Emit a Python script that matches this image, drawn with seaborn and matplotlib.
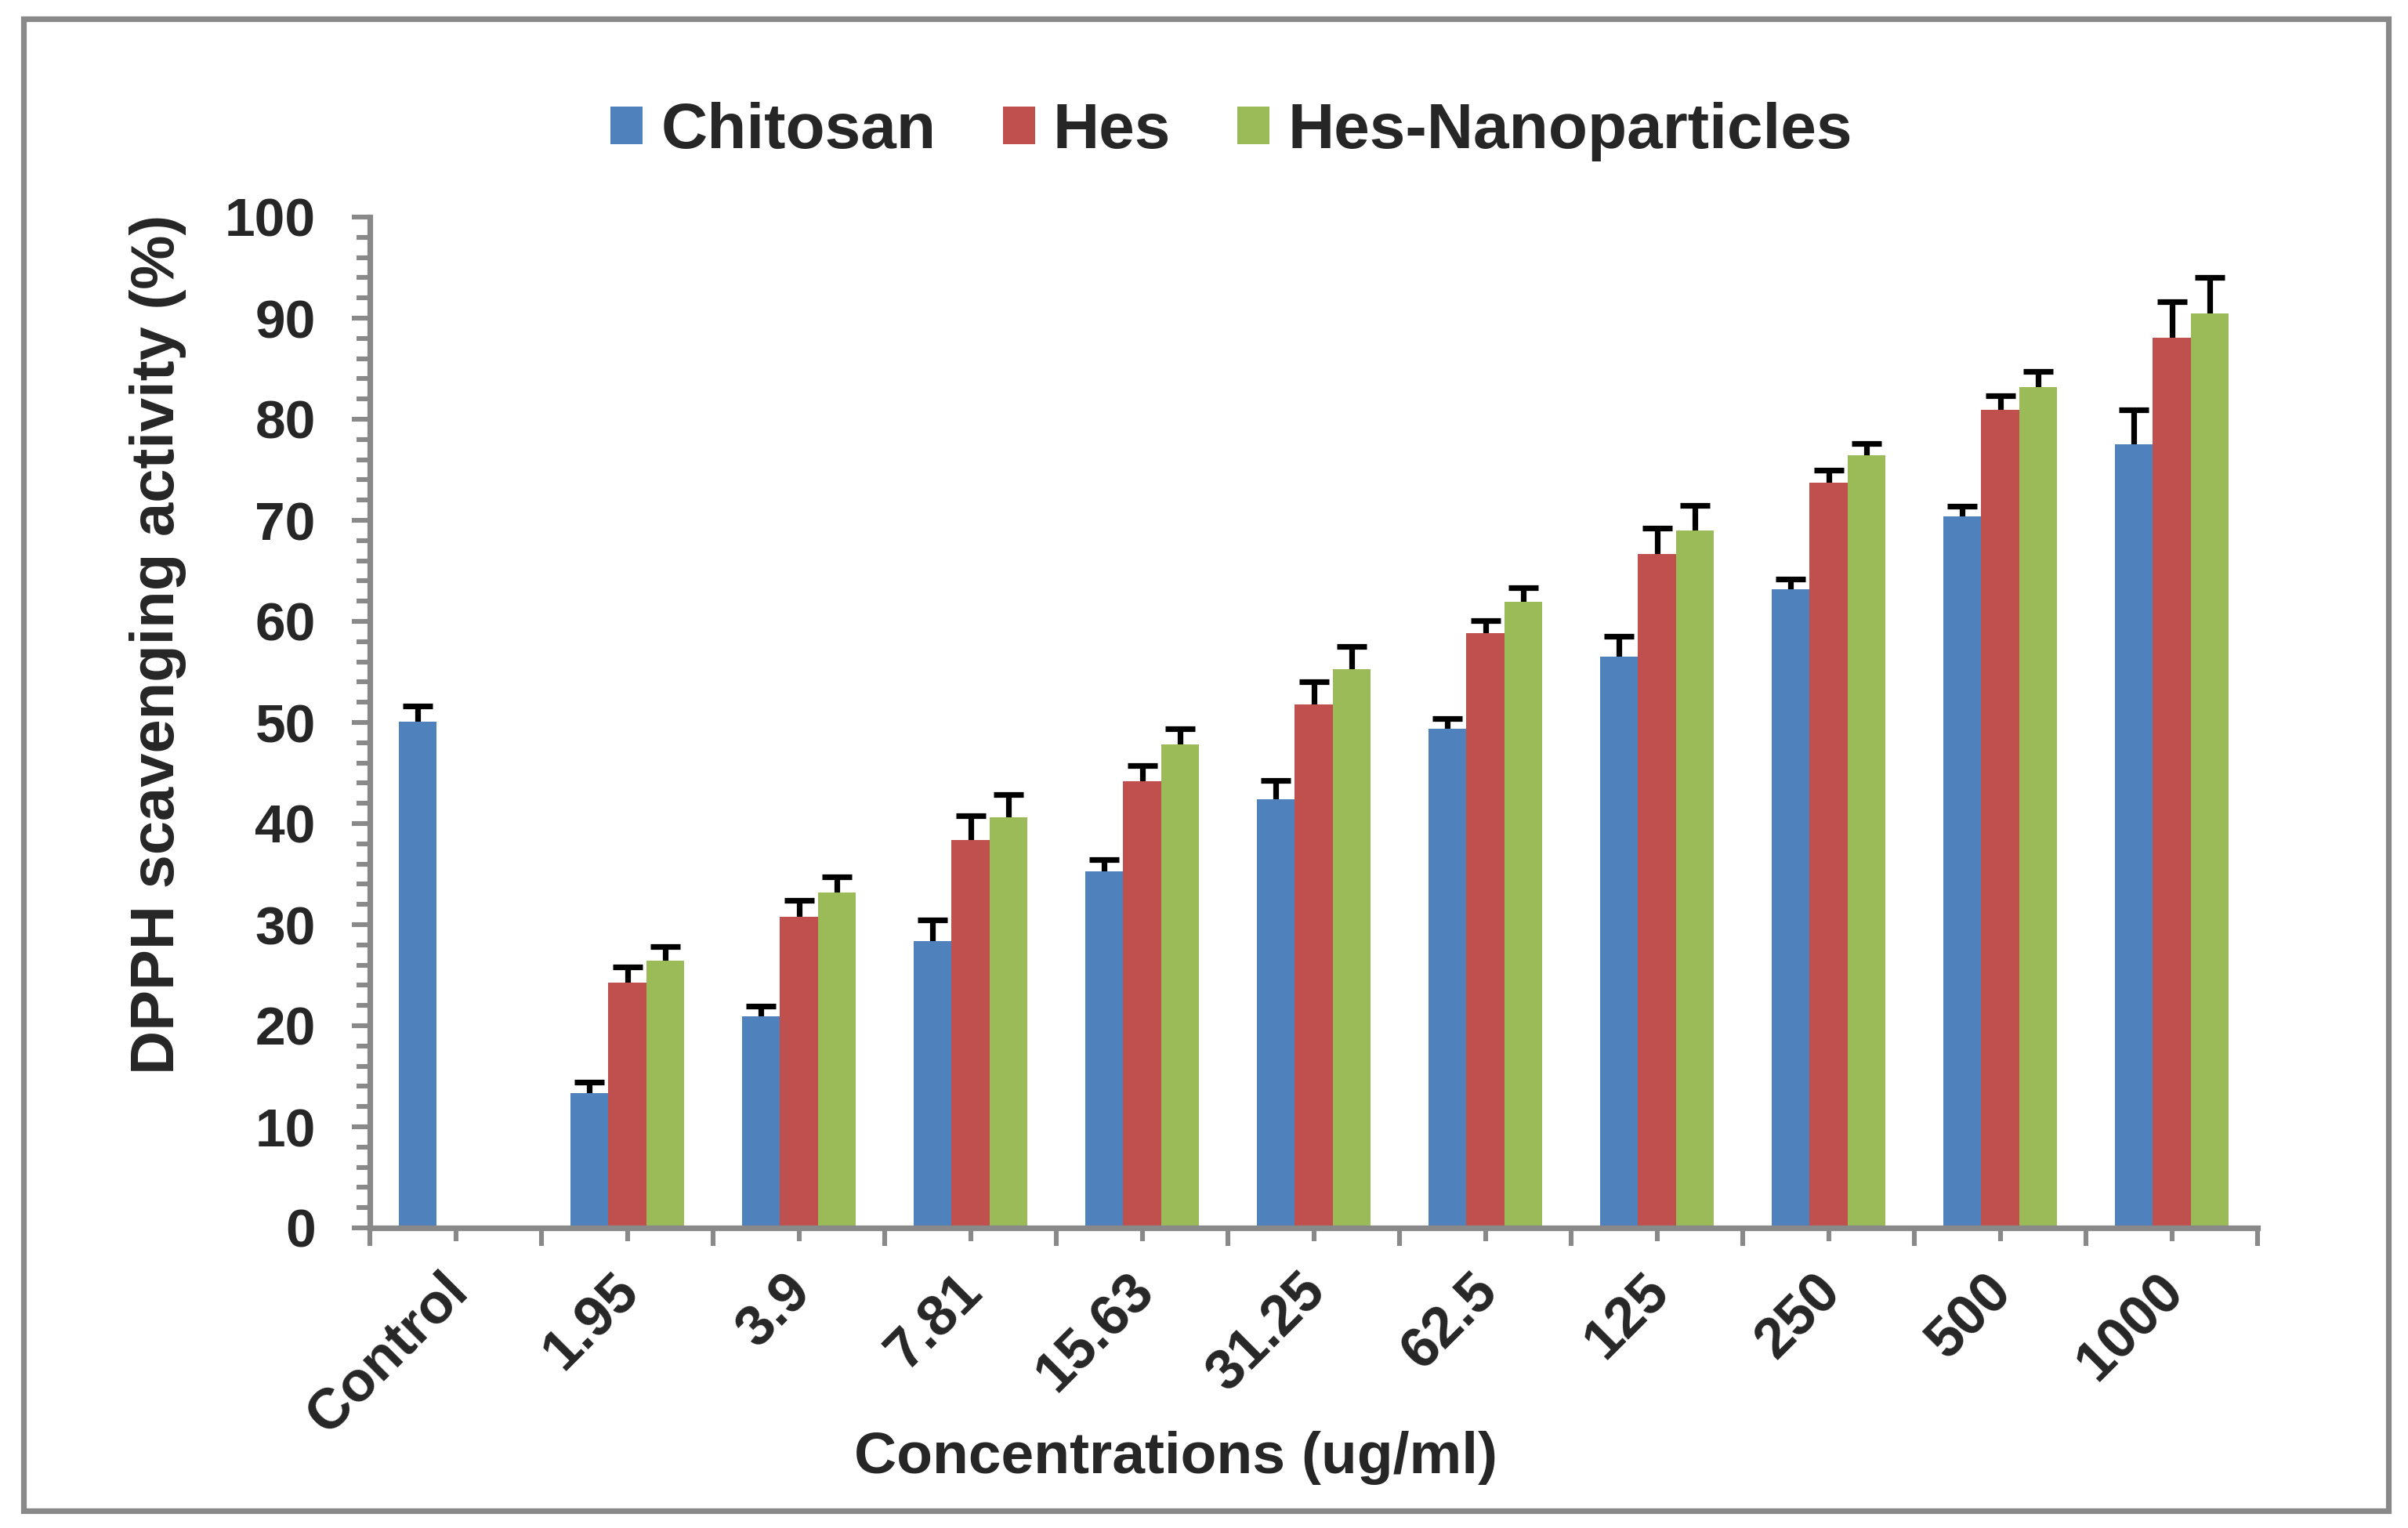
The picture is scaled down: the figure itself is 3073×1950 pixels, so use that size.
import numpy as np
import pandas as pd
import seaborn as sns
import matplotlib.pyplot as plt
import matplotlib.transforms as mtransforms
from matplotlib.patches import Rectangle, Patch
from matplotlib.ticker import MultipleLocator, FixedLocator

concentrations = ['Control', '1.95', '3.9', '7.81', '15.63', '31.25', '62.5', '125', '250', '500', '1000']
series = ['Chitosan', 'Hes', 'Hes-Nanoparticles']
colors = ['#4F81BD', '#C0504D', '#9BBB59']

chitosan = [50.1, 13.3, 20.9, 28.4, 35.3, 42.4, 49.4, 56.5, 63.2, 70.4, 77.5]
chitosan_sd = [1.5, 1.1, 1.0, 2.1, 1.1, 1.9, 1.0, 2.0, 1.0, 1.0, 3.4]
hes = [np.nan, 24.3, 30.8, 38.4, 44.2, 51.8, 58.8, 66.7, 73.7, 80.9, 88.1]
hes_sd = [np.nan, 1.5, 1.6, 2.4, 1.5, 2.2, 1.3, 2.5, 1.3, 1.4, 3.5]
hes_nano = [np.nan, 26.4, 33.2, 40.6, 47.8, 55.3, 61.9, 69.0, 76.4, 83.2, 90.5]
hes_nano_sd = [np.nan, 1.4, 1.5, 2.3, 1.6, 2.2, 1.4, 2.5, 1.2, 1.5, 3.5]

rows = []
for name, vals, sds in zip(series, [chitosan, hes, hes_nano], [chitosan_sd, hes_sd, hes_nano_sd]):
    for c, v, s in zip(concentrations, vals, sds):
        rows.append({'conc': c, 'group': name, 'value': v, 'sd': s})
df = pd.DataFrame(rows).dropna()

sns.set_style('white')
plt.rcParams['font.family'] = ['Liberation Sans', 'DejaVu Sans']
plt.rcParams['font.weight'] = 'bold'
plt.rcParams['axes.labelweight'] = 'bold'

gray = '#898989'
W, H, DPI = 3073, 1950, 200
fig = plt.figure(figsize=(W / DPI, H / DPI), dpi=DPI)
ax = fig.add_axes([472 / W, 1 - 1567 / H, (2881 - 472) / W, (1567 - 277) / H])

sns.barplot(
    data=df, x='conc', y='value', hue='group',
    order=concentrations, hue_order=series, palette=colors,
    width=0.66, saturation=1, errorbar=None, linewidth=0,
    legend=False, ax=ax
)

# error bars (upper half shows, lower half hidden behind the bars)
sd_lookup = df.set_index(['group', 'conc'])['sd']
for name, cont in zip(series, ax.containers):
    for bar in cont:
        xc = bar.get_x() + bar.get_width() / 2
        cat = concentrations[int(round(xc))]
        ax.errorbar(xc, bar.get_height(), yerr=sd_lookup[(name, cat)], fmt='none',
                    ecolor='black', elinewidth=2.6, capsize=6.8, capthick=2.6, zorder=0.5)

ax.set_xlim(-0.5, len(concentrations) - 0.5)
ax.set_ylim(0, 100)
ax.yaxis.set_major_locator(MultipleLocator(10))
ax.yaxis.set_minor_locator(MultipleLocator(2))
ax.set_xticks(range(len(concentrations)))
ax.set_xticklabels(concentrations, rotation=45, ha='right', va='top', rotation_mode='anchor')
ax.xaxis.set_minor_locator(FixedLocator(np.arange(-0.5, len(concentrations), 1)))

for side in ['top', 'right']:
    ax.spines[side].set_visible(False)
for side in ['left', 'bottom']:
    ax.spines[side].set_color(gray)
    ax.spines[side].set_linewidth(2.6)

ax.tick_params(axis='x', which='major', direction='out', length=6.1, width=2.2, color=gray,
               pad=10.4, labelsize=26, bottom=True)
ax.tick_params(axis='x', which='minor', direction='out', length=8.3, width=2.2, color=gray, bottom=True)
ax.tick_params(axis='y', which='major', direction='out', length=8.3, width=2.2, color=gray,
               pad=16.6, labelsize=25, left=True)
ax.tick_params(axis='y', which='minor', direction='out', length=6.1, width=2.2, color=gray, left=True)

shift = mtransforms.ScaledTranslation(-20 / DPI, 0, fig.dpi_scale_trans)
for lab in ax.get_xticklabels():
    lab.set_transform(lab.get_transform() + shift)

ax.set_xlabel('Concentrations (ug/ml)', fontsize=27, fontweight='bold')
ax.set_ylabel('DPPH scavenging activity (%)', fontsize=28, fontweight='bold')
ax.xaxis.set_label_coords(0.427, -0.2008)
ax.yaxis.set_label_coords(-0.097, 0.577)

handles = [Patch(facecolor=c, edgecolor='none', label=s) for s, c in zip(series, colors)]
ax.legend(handles=handles, loc='center', bbox_to_anchor=(0.5114, 0.914),
          bbox_transform=fig.transFigure, ncol=3, frameon=False,
          prop={'size': 29.5, 'weight': 'bold'}, handlelength=0.5, handleheight=0.53,
          handletextpad=0.28, columnspacing=1.04, borderpad=0)

# chart area border
fig.patches.append(Rectangle((30 / W, 1 - 1928 / H), (3048 - 30) / W, (1928 - 24) / H,
                             transform=fig.transFigure, fill=False, edgecolor=gray,
                             linewidth=2.6, zorder=10))

fig.savefig('out.png', dpi=DPI)
